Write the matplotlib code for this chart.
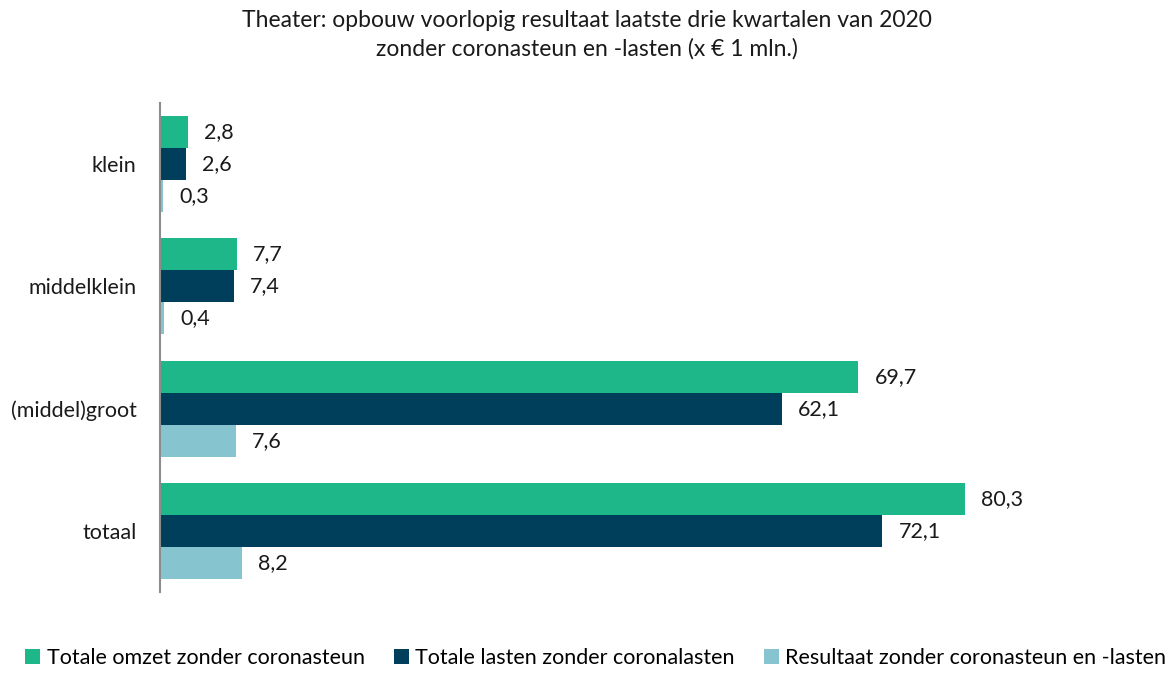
import matplotlib.pyplot as plt
import numpy as np

plt.rcParams['font.family'] = ['Lato', 'DejaVu Sans']

categories = ['klein', 'middelklein', '(middel)groot', 'totaal']
omzet = [2.8, 7.7, 69.7, 80.3]
lasten = [2.6, 7.4, 62.1, 72.1]
resultaat = [0.3, 0.4, 7.6, 8.2]
series_names = ['Totale omzet zonder coronasteun',
                'Totale lasten zonder coronalasten',
                'Resultaat zonder coronasteun en -lasten']
colors = ['#1db78a', '#003f5c', '#86c5cf']

fig = plt.figure(figsize=(11.73, 6.73), dpi=100)
ax = fig.add_axes([160 / 1173, 1 - 592 / 673, 1000 / 1173, 489 / 673])

y = np.arange(len(categories))
h = 0.262
for i, (vals, col, name) in enumerate(zip([omzet, lasten, resultaat], colors, series_names)):
    pos = y + (i - 1) * h
    ax.barh(pos, vals, height=h, color=col, label=name)
    for p, v in zip(pos, vals):
        ax.text(v + 1.6, p, f'{v:.1f}'.replace('.', ','), va='center', ha='left',
                fontsize=15.5, color='#1a1a1a')

ax.set_ylim(3.5, -0.5)
ax.set_xlim(0, 1000 / 10.02)
ax.set_yticks(y)
ax.set_yticklabels(categories, fontsize=15.5, color='#1a1a1a')
ax.tick_params(axis='y', length=0, pad=17)
ax.set_xticks([])
for s in ['top', 'right', 'bottom']:
    ax.spines[s].set_visible(False)
ax.spines['left'].set_color('#8c8c8c')
ax.spines['left'].set_linewidth(1.5)

fig.suptitle('Theater: opbouw voorlopig resultaat laatste drie kwartalen van 2020\n'
             'zonder coronasteun en -lasten (x € 1 mln.)',
             fontsize=16.5, y=0.985, linespacing=1.4, color='#1a1a1a')

fig.legend(loc='lower center', bbox_to_anchor=(0.508, -0.022), ncol=3, frameon=False,
           fontsize=15.5, handlelength=0.7, handleheight=0.7, handletextpad=0.3,
           columnspacing=1.35)

fig.savefig('out.png', dpi=100)
